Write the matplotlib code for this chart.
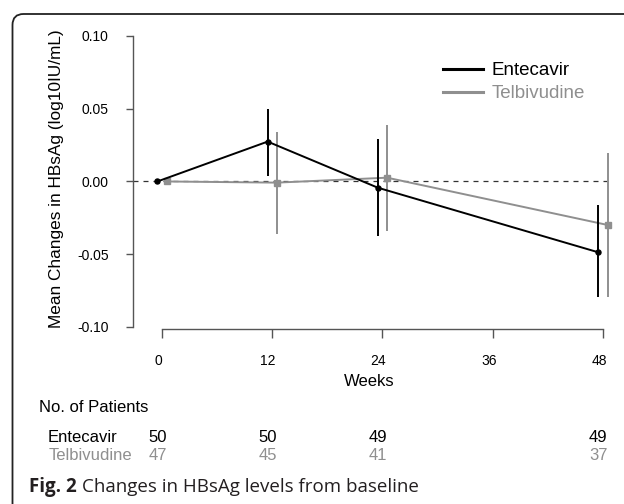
import matplotlib
matplotlib.use("Agg")
import matplotlib.pyplot as plt
from matplotlib.lines import Line2D
from matplotlib.patches import FancyBboxPatch
from matplotlib.transforms import blended_transform_factory, ScaledTranslation

# ---------------- data ----------------
weeks = [0, 12, 24, 48]
week_ticks = [0, 12, 24, 36, 48]
ent_mean = [0.000, 0.0274, -0.0043, -0.0487]
ent_low = [0.000, 0.0038, -0.0373, -0.0794]
ent_high = [0.000, 0.0498, 0.0292, -0.0162]
tel_mean = [0.000, -0.0008, 0.0026, -0.0299]
tel_low = [0.000, -0.0361, -0.0338, -0.0792]
tel_high = [0.000, 0.0342, 0.0388, 0.0196]
ent_n = [50, 50, 49, 49]
tel_n = [47, 45, 41, 37]
y_ticks = [-0.10, -0.05, 0.00, 0.05, 0.10]
y_ticklabels = ["-0.10", "-0.05", "0.00", "0.05", "0.10"]

# ---------------- style ----------------
BLACK = "#000000"
GREY = "#8f8f8f"
AXCOL = "#555555"
offset = 0.5
W, H = 624, 504

plt.rcParams["font.family"] = ["Liberation Sans", "DejaVu Sans"]

fig = plt.figure(figsize=(W / 100, H / 100), dpi=100)
ax = fig.add_axes([133 / W, (H - 329) / H, (615 - 133) / W, (329 - 30) / H])
ax.set_xlim(-3.156, 49.31)
ax.set_ylim(-0.1014, 0.1041)

# reference line
ax.plot([-3.156, 48.5], [0, 0], color="#333333", lw=0.9, ls=(0, (4, 4)), zorder=1)

ent_x = [w - offset for w in weeks]
tel_x = [w + offset for w in weeks]

def yerr(mean, low, high):
    return [[m - l for m, l in zip(mean, low)], [h - m for m, h in zip(mean, high)]]

ax.errorbar(tel_x, tel_mean, yerr=yerr(tel_mean, tel_low, tel_high), color=GREY,
            lw=1.4, elinewidth=1.4, capsize=0, marker="s", ms=4.5, zorder=2)
ax.errorbar(ent_x, ent_mean, yerr=yerr(ent_mean, ent_low, ent_high), color=BLACK,
            lw=1.4, elinewidth=1.4, capsize=0, marker="o", ms=3.6, zorder=3)

# axes styling (R-like detached axes)
for s in ["top", "right"]:
    ax.spines[s].set_visible(False)
ax.spines["left"].set_bounds(-0.10, 0.10)
ax.spines["bottom"].set_bounds(0, 48)
for s in ["left", "bottom"]:
    ax.spines[s].set_color(AXCOL)
    ax.spines[s].set_linewidth(1.0)
ax.set_yticks(y_ticks)
ax.set_yticklabels(y_ticklabels)
ax.set_xticks(week_ticks)
ax.set_xticklabels([str(w) for w in week_ticks])
ax.tick_params(axis="y", length=5, width=1.0, color=AXCOL, pad=12.5, labelsize=10)
ax.tick_params(axis="x", length=6.5, width=1.0, color=AXCOL, pad=11.5, labelsize=10)
shift = ScaledTranslation(-4 / 100, 0, fig.dpi_scale_trans)
for lab in ax.get_xticklabels():
    lab.set_transform(lab.get_transform() + shift)

ax.set_xlabel("Weeks", fontsize=12, va="center")
ax.xaxis.set_label_coords((369.5 - 133) / 482, (329 - 381) / 299)
ax.set_ylabel("Mean Changes in HBsAg (log10IU/mL)", fontsize=12.4, va="center")
ax.yaxis.set_label_coords((56.5 - 133) / 482, (329 - 178.5) / 299)

# legend
handles = [Line2D([], [], color=BLACK, lw=2.2), Line2D([], [], color=GREY, lw=2.2)]
leg = ax.legend(handles, ["Entecavir", "Telbivudine"], loc="upper left",
                bbox_to_anchor=(443 / W, 1 - 62 / H), bbox_transform=fig.transFigure,
                frameon=False, fontsize=13.5, handlelength=2.15, handletextpad=0.42,
                borderpad=0, borderaxespad=0, labelspacing=0.32, labelcolor="linecolor")

# number at risk table
fig.text(39 / W, 1 - 407 / H, "No. of Patients", fontsize=12, va="center", ha="left")
fig.text(48 / W, 1 - 437 / H, "Entecavir", fontsize=12, va="center", ha="left", color=BLACK)
fig.text(49 / W, 1 - 456 / H, "Telbivudine", fontsize=12, va="center", ha="left", color=GREY)
tr = blended_transform_factory(ax.transData, fig.transFigure)
for x, n in zip(ent_x, ent_n):
    fig.text(x, 1 - 437 / H, str(n), transform=tr, fontsize=12, ha="center", va="center", color=BLACK)
for x, n in zip(ent_x, tel_n):
    fig.text(x, 1 - 456 / H, str(n), transform=tr, fontsize=12, ha="center", va="center", color=GREY)

# caption
cap1 = fig.text(29 / W, 1 - 487 / H, "Fig. 2", fontsize=13.5, fontweight="bold",
                family=["Open Sans", "DejaVu Sans"], va="center", ha="left", color="#231f20")
fig.canvas.draw()
bb = cap1.get_window_extent()
fig.text((bb.x1 + 5) / W, 1 - 487 / H, "Changes in HBsAg levels from baseline", fontsize=13.5,
         family=["Open Sans", "DejaVu Sans"], va="center", ha="left", color="#231f20")

# rounded frame
frame = FancyBboxPatch((12.5 / 100, -0.3), (W + 30) / 100, (H - 14) / 100 + 0.3,
                       boxstyle="round,pad=0,rounding_size=0.11",
                       transform=fig.dpi_scale_trans, fill=False, ec="#222222", lw=1.3)
fig.patches.append(frame)

fig.savefig("out.png", dpi=100)
